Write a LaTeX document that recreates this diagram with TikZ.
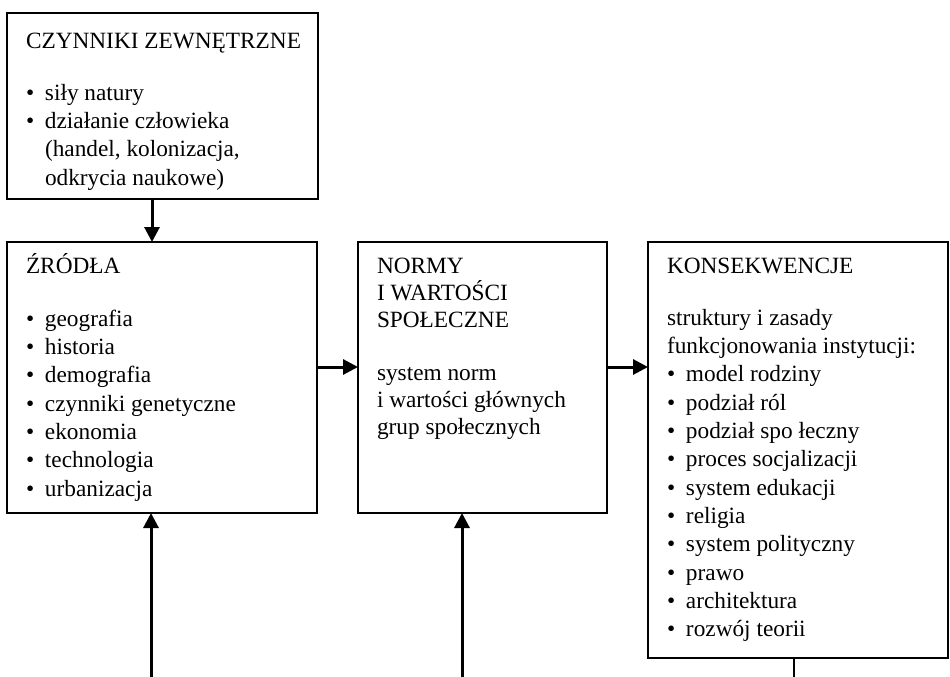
\documentclass[tikz,border=0pt]{standalone}
\usepackage{fontspec}
\setmainfont{Liberation Serif}
\usetikzlibrary{arrows.meta}
\newcommand{\bitem}[1]{\makebox[19pt][l]{\textbullet}#1}
\newcommand{\contline}[1]{\hspace*{19pt}#1}
\newcommand{\firststrut}{\rule{0pt}{22pt}}
\begin{document}
\begin{tikzpicture}[x=1pt,y=-1pt,
  box/.style={draw,line width=2pt,anchor=north west,inner sep=0pt,outer sep=0pt},
  txt/.style={anchor=north west,inner sep=0pt,outer sep=0pt,align=left,font=\fontsize{23.3}{28.3}\selectfont},
  arr/.style={line width=3pt,-{Triangle[length=15pt,width=15pt]}},
  plain/.style={line width=2pt}
]
\useasboundingbox (0,0) rectangle (950,677);

% boxes
\node[box,minimum width=311pt,minimum height=186pt] (A) at (7,13) {};
\node[box,minimum width=310pt,minimum height=271pt] (B) at (7,242) {};
\node[box,minimum width=249pt,minimum height=271pt] (C) at (358,242) {};
\node[box,minimum width=300pt,minimum height=416pt] (D) at (648,242) {};

% texts
\node[txt] (tA) at (26,26) {\firststrut CZYNNIKI ZEWNĘTRZNE\\[24pt]
\bitem{siły natury}\\
\bitem{działanie człowieka}\\
\contline{(handel, kolonizacja,}\\
\contline{odkrycia naukowe)}};

\node[txt] (tB) at (26,251) {\firststrut ŹRÓDŁA\\[25pt]
\bitem{geografia}\\
\bitem{historia}\\
\bitem{demografia}\\
\bitem{czynniki genetyczne}\\
\bitem{ekonomia}\\
\bitem{technologia}\\
\bitem{urbanizacja}};

\node[txt,font=\fontsize{23.3}{27}\selectfont] (tC) at (377,251) {\firststrut NORMY\\
I WARTOŚCI\\
SPOŁECZNE\\[26pt]
system norm\\
i wartości głównych\\
grup społecznych};

\node[txt] (tD) at (667,251) {\firststrut KONSEKWENCJE\\[24pt]
struktury i zasady\\
funkcjonowania instytucji:\\
\bitem{model rodziny}\\
\bitem{podział ról}\\
\bitem{podział spo łeczny}\\
\bitem{proces socjalizacji}\\
\bitem{system edukacji}\\
\bitem{religia}\\
\bitem{system polityczny}\\
\bitem{prawo}\\
\bitem{architektura}\\
\bitem{rozwój teorii}};

% connector helpers
\coordinate (xAB) at (152,0);
\coordinate (hrow) at (0,367);
\coordinate (s1) at (151,677);
\coordinate (s2) at (462,677);
\coordinate (s3) at (794,677);

% connectors
\draw[arr] (A.south -| xAB) -- (B.north -| xAB);
\draw[arr] (B.east |- hrow) -- (C.west |- hrow);
\draw[arr] (C.east |- hrow) -- (D.west |- hrow);
\draw[arr] (s1) -- (B.south -| s1);
\draw[arr] (s2) -- (C.south -| s2);
\draw[plain] (D.south -| s3) -- (s3);
\end{tikzpicture}
\end{document}
